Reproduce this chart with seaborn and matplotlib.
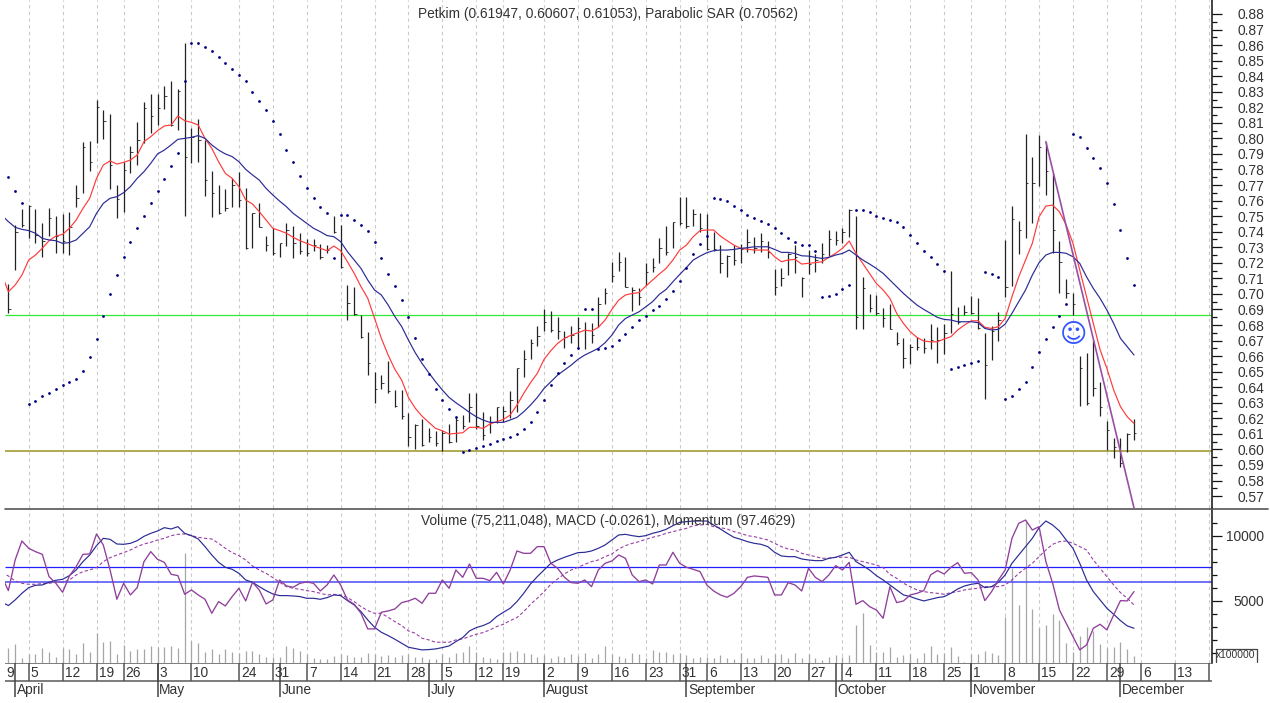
import numpy as np
import pandas as pd
import matplotlib.pyplot as plt
import seaborn as sns

W, H = 1270, 703

# daily bars, session 0 is 9 April
high = [0.7064,0.7443,0.7544,0.7572,0.7544,0.7454,0.7550,0.7503,0.7512,0.7525,
        0.7700,0.7975,0.7983,0.8247,0.8183,0.8155,0.7700,0.7850,0.7951,0.8103,
        0.8232,0.8283,0.8283,0.8339,0.8367,0.8318,0.8611,0.8069,0.8125,0.7990,
        0.7790,0.7700,0.7675,0.7747,0.7786,0.7679,0.7522,0.7582,0.7375,0.7426,
        0.7330,0.7454,0.7439,0.7390,0.7353,0.7353,0.7321,0.7314,0.7503,0.7443,
        0.7058,0.7043,0.6865,0.6753,0.6498,0.6477,0.6569,0.6382,0.6382,0.6232,
        0.6164,0.6193,0.6135,0.6120,0.6124,0.6163,0.6210,0.6221,0.6360,0.6360,
        0.6242,0.6214,0.6274,0.6279,0.6375,0.6525,0.6639,0.6707,0.6793,0.6903,
        0.6892,0.6849,0.6763,0.6793,0.6849,0.6821,0.6815,0.6978,0.7035,0.7203,
        0.7267,0.7235,0.7042,0.7035,0.7197,0.7229,0.7362,0.7436,0.7464,0.7625,
        0.7621,0.7543,0.7518,0.7511,0.7400,0.7314,0.7250,0.7314,0.7318,0.7415,
        0.7368,0.7389,0.7340,0.7157,0.7164,0.7265,0.7314,0.7110,0.7282,0.7256,
        0.7325,0.7410,0.7406,0.7421,0.7543,0.7501,0.7110,0.6999,0.6993,0.6907,
        0.6935,0.6753,0.6714,0.6677,0.6720,0.6714,0.6806,0.6785,0.6806,0.7147,
        0.6918,0.6928,0.6986,0.6971,0.6750,0.6793,0.6885,0.7346,0.7565,0.7468,
        0.8028,0.7878,0.8022,0.7979,0.7779,0.7340,0.7093,0.7003,0.6602,0.6617,
        0.6703,0.6435,0.6184,0.6075,0.6071,0.6107,0.61947]
low = [0.6880,0.7154,0.7428,0.7357,0.7329,0.7235,0.7372,0.7265,0.7265,0.7250,
       0.7561,0.7647,0.7792,0.7973,0.7994,0.7675,0.7486,0.7527,0.7775,0.7829,
       0.7973,0.8033,0.8086,0.8191,0.8079,0.8054,0.7503,0.7840,0.7850,0.7632,
       0.7497,0.7512,0.7535,0.7561,0.7561,0.7287,0.7293,0.7428,0.7278,0.7250,
       0.7235,0.7308,0.7229,0.7257,0.7244,0.7278,0.7222,0.7261,0.7394,0.7164,
       0.6832,0.6865,0.6719,0.6477,0.6301,0.6387,0.6365,0.6271,0.6196,0.6022,
       0.6003,0.6024,0.6045,0.6024,0.5991,0.6039,0.6045,0.6131,0.6174,0.6131,
       0.6060,0.6103,0.6171,0.6178,0.6200,0.6242,0.6467,0.6581,0.6667,0.6763,
       0.6757,0.6712,0.6654,0.6682,0.6650,0.6645,0.6682,0.6789,0.6935,0.7079,
       0.7147,0.7042,0.6890,0.6928,0.7055,0.7143,0.7197,0.7250,0.7293,0.7443,
       0.7421,0.7438,0.7395,0.7282,0.7278,0.7136,0.7106,0.7185,0.7200,0.7271,
       0.7265,0.7271,0.7228,0.6992,0.7050,0.7121,0.7136,0.6982,0.7127,0.7143,
       0.7196,0.7243,0.7314,0.7325,0.7368,0.6774,0.6774,0.6881,0.6864,0.6789,
       0.6772,0.6669,0.6521,0.6549,0.6639,0.6622,0.6645,0.6557,0.6611,0.6746,
       0.6806,0.6864,0.6870,0.6772,0.6322,0.6575,0.6699,0.6982,0.7053,0.7256,
       0.7361,0.7453,0.7696,0.7636,0.7261,0.7008,0.6971,0.6864,0.6280,0.6285,
       0.6343,0.6217,0.5996,0.5942,0.5889,0.5985,0.60607]
close = [0.6903,0.7400,0.7443,0.7565,0.7379,0.7342,0.7486,0.7372,0.7342,0.7428,
         0.7615,0.7947,0.7846,0.8204,0.8112,0.7829,0.7610,0.7797,0.7910,0.7990,
         0.8193,0.8146,0.8198,0.8273,0.8086,0.8307,0.7883,0.8011,0.7990,0.7732,
         0.7651,0.7518,0.7550,0.7700,0.7604,0.7293,0.7518,0.7432,0.7314,0.7265,
         0.7325,0.7411,0.7325,0.7278,0.7261,0.7314,0.7235,0.7282,0.7396,0.7175,
         0.6944,0.6870,0.6721,0.6558,0.6387,0.6425,0.6378,0.6280,0.6215,0.6082,
         0.6157,0.6028,0.6082,0.6039,0.6107,0.6050,0.6189,0.6152,0.6274,0.6152,
         0.6092,0.6178,0.6274,0.6247,0.6317,0.6521,0.6579,0.6682,0.6729,0.6821,
         0.6767,0.6763,0.6720,0.6735,0.6778,0.6767,0.6735,0.6935,0.7008,0.7115,
         0.7207,0.7042,0.7025,0.6982,0.7143,0.7175,0.7293,0.7271,0.7460,0.7458,
         0.7436,0.7513,0.7421,0.7286,0.7286,0.7196,0.7243,0.7217,0.7286,0.7335,
         0.7293,0.7342,0.7271,0.7042,0.7104,0.7256,0.7239,0.7100,0.7192,0.7217,
         0.7256,0.7350,0.7346,0.7400,0.7539,0.6849,0.7035,0.6907,0.6875,0.6847,
         0.6776,0.6686,0.6590,0.6660,0.6656,0.6650,0.6703,0.6703,0.6746,0.6870,
         0.6821,0.6885,0.6879,0.6778,0.6542,0.6763,0.6832,0.7046,0.7481,0.7410,
         0.7715,0.7715,0.7942,0.7792,0.7410,0.7203,0.7003,0.6935,0.6521,0.6296,
         0.6397,0.6275,0.6124,0.6018,0.5910,0.6099,0.61053]

# parabolic SAR, one dot per session
sar = [0.7750,0.7662,0.7583,0.6292,0.6314,0.6342,0.6363,0.6391,0.6412,0.6434,
       0.6455,0.6507,0.6597,0.6708,0.6858,0.6999,0.7122,0.7235,0.7334,0.7426,
       0.7503,0.7582,0.7660,0.7737,0.7822,0.7904,0.8367,0.8611,0.8611,0.8588,
       0.8564,0.8523,0.8483,0.8444,0.8408,0.8367,0.8298,0.8241,0.8185,0.8112,
       0.8028,0.7928,0.7850,0.7758,0.7679,0.7617,0.7561,0.7518,0.7229,0.7505,
       0.7505,0.7475,0.7445,0.7405,0.7332,0.7229,0.7128,0.7051,0.6958,0.6853,
       0.6716,0.6581,0.6482,0.6390,0.6320,0.6257,0.6208,0.5985,0.5996,0.6009,
       0.6024,0.6036,0.6051,0.6064,0.6079,0.6101,0.6129,0.6178,0.6240,0.6320,
       0.6414,0.6489,0.6553,0.6609,0.6652,0.6900,0.6900,0.6647,0.6652,0.6667,
       0.6701,0.6744,0.6787,0.6830,0.6860,0.6894,0.6924,0.6965,0.7020,0.7083,
       0.7169,0.7254,0.7319,0.7374,0.7619,0.7610,0.7595,0.7567,0.7540,0.7510,
       0.7488,0.7467,0.7447,0.7424,0.7390,0.7362,0.7332,0.7315,0.7315,0.7278,
       0.6982,0.6988,0.6999,0.7030,0.7058,0.7537,0.7539,0.7524,0.7504,0.7485,
       0.7475,0.7460,0.7432,0.7376,0.7325,0.7278,0.7235,0.7190,0.7149,0.6519,
       0.6532,0.6545,0.6553,0.6566,0.7143,0.7128,0.7110,0.6322,0.6343,0.6386,
       0.6433,0.6527,0.6626,0.6710,0.6789,0.6858,0.6933,0.8028,0.8007,0.7936,
       0.7872,0.7807,0.7711,0.7576,0.7410,0.7228,0.70562]

# the two moving averages and the lower pane lines start one session earlier
ma_fast = [0.7130,0.7014,0.7057,0.7121,0.7218,0.7250,0.7293,0.7342,0.7372,0.7383,0.7422,
           0.7475,0.7550,0.7615,0.7743,0.7829,0.7855,0.7835,0.7846,0.7861,0.7893,
           0.7979,0.8011,0.8050,0.8080,0.8086,0.8144,0.8114,0.8103,0.8086,0.8000,
           0.7936,0.7850,0.7775,0.7743,0.7690,0.7604,0.7578,0.7529,0.7475,0.7422,
           0.7407,0.7390,0.7364,0.7342,0.7325,0.7308,0.7293,0.7278,0.7308,0.7278,
           0.7207,0.7132,0.7047,0.6972,0.6843,0.6715,0.6607,0.6515,0.6446,0.6334,
           0.6265,0.6214,0.6174,0.6135,0.6120,0.6099,0.6103,0.6107,0.6142,0.6142,
           0.6135,0.6163,0.6178,0.6193,0.6221,0.6285,0.6360,0.6429,0.6489,0.6579,
           0.6635,0.6682,0.6714,0.6735,0.6750,0.6767,0.6761,0.6785,0.6832,0.6900,
           0.6960,0.6993,0.7003,0.7008,0.7050,0.7089,0.7128,0.7164,0.7218,0.7282,
           0.7314,0.7368,0.7407,0.7411,0.7411,0.7372,0.7342,0.7314,0.7293,0.7287,
           0.7282,0.7282,0.7282,0.7239,0.7207,0.7218,0.7222,0.7192,0.7197,0.7201,
           0.7207,0.7235,0.7261,0.7293,0.7340,0.7260,0.7196,0.7132,0.7067,0.7025,
           0.6971,0.6875,0.6810,0.6757,0.6720,0.6697,0.6692,0.6692,0.6710,0.6725,
           0.6768,0.6800,0.6827,0.6827,0.6785,0.6778,0.6789,0.6843,0.6982,0.7110,
           0.7218,0.7325,0.7496,0.7565,0.7571,0.7528,0.7443,0.7325,0.7153,0.6982,
           0.6810,0.6640,0.6521,0.6382,0.6275,0.6210,0.6167]
ma_slow = [0.7507,0.7465,0.7428,0.7415,0.7407,0.7390,0.7357,0.7347,0.7342,0.7325,0.7330,
           0.7347,0.7390,0.7432,0.7518,0.7582,0.7615,0.7625,0.7651,0.7690,0.7743,
           0.7786,0.7840,0.7900,0.7925,0.7958,0.7994,0.8000,0.8007,0.8018,0.8000,
           0.7958,0.7925,0.7900,0.7883,0.7850,0.7801,0.7765,0.7732,0.7679,0.7636,
           0.7597,0.7561,0.7518,0.7486,0.7454,0.7422,0.7400,0.7375,0.7368,0.7336,
           0.7272,0.7218,0.7164,0.7089,0.7025,0.6993,0.6929,0.6854,0.6790,0.6703,
           0.6622,0.6553,0.6493,0.6435,0.6382,0.6334,0.6300,0.6270,0.6238,0.6210,
           0.6189,0.6174,0.6174,0.6174,0.6189,0.6206,0.6242,0.6285,0.6334,0.6392,
           0.6435,0.6478,0.6510,0.6542,0.6579,0.6607,0.6628,0.6650,0.6686,0.6735,
           0.6800,0.6842,0.6864,0.6885,0.6917,0.6950,0.6997,0.7029,0.7078,0.7125,
           0.7170,0.7218,0.7243,0.7265,0.7278,0.7282,0.7282,0.7286,0.7293,0.7297,
           0.7303,0.7303,0.7303,0.7286,0.7267,0.7267,0.7260,0.7245,0.7243,0.7235,
           0.7228,0.7235,0.7250,0.7260,0.7282,0.7250,0.7218,0.7192,0.7164,0.7132,
           0.7089,0.7046,0.7003,0.6965,0.6928,0.6900,0.6875,0.6849,0.6836,0.6832,
           0.6821,0.6821,0.6821,0.6815,0.6778,0.6768,0.6772,0.6806,0.6875,0.6950,
           0.7025,0.7121,0.7201,0.7250,0.7267,0.7267,0.7261,0.7239,0.7196,0.7110,
           0.7035,0.6971,0.6896,0.6810,0.6714,0.6660,0.6607]

# lower pane, read against its right hand scale
volume = [1336,1643,567,874,900,1336,1080,644,1336,1259,
          900,1720,1080,2490,1849,1925,900,1592,1157,1259,
          1259,1515,1464,1413,1515,1336,8694,1900,1772,1080,
          1259,900,1259,1080,1003,1157,1157,900,644,695,
          644,1515,1336,1157,874,567,490,490,746,874,
          823,644,644,951,900,746,823,644,823,900,
          695,644,515,515,900,695,951,1080,1515,1080,
          695,567,490,1080,1080,1131,951,874,695,823,
          618,746,695,900,772,951,618,900,1515,900,
          772,567,951,874,618,1208,1080,1080,900,951,
          823,567,695,644,567,823,567,515,951,618,
          567,823,618,900,900,567,951,618,900,567,
          438,695,823,695,823,3131,4028,1592,1080,1080,
          1413,644,823,874,618,951,1515,900,1003,1413,
          746,310,874,900,1157,1003,823,3772,7489,4669,
          11207,4361,2874,3131,3951,3515,1772,1080,2284,3002,
          2669,1669,1336,1413,1849,1259,752]
macd = [4900,4618,5054,5566,6002,6182,6207,6413,6566,6643,6925,
        7361,8002,8515,9233,9797,9720,9361,9335,9412,9618,
        9951,10182,10361,10617,10515,10694,10182,10002,9746,9156,
        8515,7951,7566,7412,7105,6592,6413,6079,5771,5515,
        5387,5387,5361,5310,5182,5182,5105,5233,5438,5387,
        5002,4669,4156,3515,2951,2566,2310,2028,1720,1412,
        1310,1208,1233,1284,1387,1515,1849,2156,2669,2925,
        3079,3310,3772,4105,4412,4925,5566,6284,6848,7361,
        7874,8130,8335,8515,8695,8720,8823,9028,9284,9669,
        10053,10105,10002,9925,10002,10182,10310,10489,10771,11028,
        11079,11130,11130,11130,10823,10515,10182,9874,9720,9541,
        9412,9335,9156,8720,8438,8387,8387,8207,8130,8079,
        8079,8259,8335,8515,8720,8002,7694,7361,6925,6592,
        6207,5823,5438,5310,5130,4977,5105,5233,5310,5566,
        5900,6130,6259,6336,6002,6079,6413,6977,7874,8515,
        9156,9797,10617,11130,10823,10361,9669,9028,7874,6592,
        5695,5054,4412,3951,3464,3054,2874]
signal = [7150,6900,6515,6336,6259,6259,6310,6336,6413,6413,6592,
          6977,7233,7361,7541,8002,8310,8515,8695,8900,9156,
          9361,9489,9669,9797,10002,10105,10130,10002,9874,9797,
          9746,9412,9028,8695,8464,8130,7669,7361,7105,6771,
          6413,6079,5951,5874,5771,5695,5566,5438,5489,5438,
          5233,4925,4541,4233,4028,4028,3720,3387,3079,2669,
          2490,2105,1977,1797,1797,1797,1977,2054,2233,2413,
          2541,2746,3002,3182,3464,3695,4156,4720,5182,5695,
          6259,6669,7053,7361,7566,7797,8002,8130,8387,8592,
          8977,9233,9412,9541,9720,9874,10002,10182,10310,10438,
          10566,10771,10823,10874,10694,10618,10515,10310,10182,10002,
          9925,9797,9669,9412,9156,8977,8900,8643,8515,8387,
          8259,8259,8335,8335,8335,8130,8002,7874,7746,7541,
          7028,6720,6336,6079,5823,5695,5618,5566,5489,5618,
          5695,5823,5900,5951,6079,6079,6079,6207,6592,7105,
          7489,7874,8387,8900,9335,9541,9592,9412,9156,8900,
          8130,7489,6848,6207,5618,5182,4669]
momentum = [6900,5771,8130,9592,9028,8771,8566,6848,6336,5643,6900,
            7618,8566,8592,10130,9284,7361,5105,6336,5438,6002,
            8002,8771,8182,7951,7028,6925,5489,5823,5438,5105,
            4028,4925,4592,5310,5951,4977,6413,5823,4746,5054,
            6592,6130,6028,6336,6438,6336,5746,6207,6977,6207,
            5054,4720,4028,2823,2823,4105,4207,4361,4848,4977,
            5182,4797,5566,5566,6592,5951,7361,6797,7823,6720,
            6720,6541,7182,6284,7361,8823,8643,8643,9156,9156,
            7874,7489,6797,6387,6336,6592,6079,7361,7874,8053,
            8515,8259,6977,6464,6592,6284,7746,7746,8720,7874,
            7566,7412,7233,6207,5746,5438,5259,5566,6079,6797,
            6900,6848,6797,5438,5438,6387,6207,5746,7489,6797,
            6464,6977,7694,7361,7951,4720,5002,4541,4284,3643,
            6079,4848,4977,5438,5566,5771,6977,7310,7053,7566,
            7925,7105,7156,6592,5002,5695,6592,7361,9797,10951,
            11207,10438,10694,8002,6336,4284,3259,2233,1208,1592,
            2874,3182,2746,3900,5002,4977,5695]

week_sessions = [3,8,13,17,22,27,34,39,44,49,54,59,64,69,73,79,84,89,94,99,103,108,113,118,
                 123,128,133,138,142,147,152,157,162,167,172,177]
week_labels = ['5','12','19','26','3','10','24','31','7','14','21','28','5','12','19','2','9','16',
               '23','31','6','13','20','27','4','11','18','25','1','8','15','22','29','6','13','']
month_sessions = [1,22,40,62,79,100,122,142,164]
month_labels = ['April','May','June','July','August','September','October','November','December']

price_ticks = np.arange(57, 89) / 100
price_minor = np.arange(57, 88) / 100 + 0.005
pane_ticks = [5000, 10000]
pane_minor = [1000,2000,3000,4000,6000,7000,8000,9000,11000]

support = 0.6864
resistance = 0.5990
pane_levels = [7554, 6462]
trend_sessions = [153, 166]
trend_prices = [0.7979, 0.5623]

sns.set_theme(style="white")
plt.rcParams['font.family'] = ['Liberation Sans', 'DejaVu Sans']
FS = 9.9

df = pd.DataFrame({'session': np.arange(len(high)), 'high': high, 'low': low, 'close': close,
                   'sar': sar, 'volume': volume})
lines = pd.DataFrame({'session': np.arange(-1, len(high)), 'fast': ma_fast, 'slow': ma_slow,
                      'macd': macd, 'signal': signal, 'momentum': momentum})

fig = plt.figure(figsize=(W / 100, H / 100), dpi=100, facecolor='white')


def pane(top, bottom):
    return fig.add_axes([5 / W, 1 - bottom / H, 1207 / W, (bottom - top) / H])


ax = pane(0, 508)
ax2 = pane(508, 663)
ax3 = pane(663, 697)
xlim = (-0.4955, 177.5)
for a in (ax, ax2, ax3):
    a.set_xlim(*xlim)
    a.set_facecolor('none')
    a.set_xticks([])
    for s in a.spines.values():
        s.set_visible(False)
ax.set_ylim(0.56232, 0.889)
ax2.set_ylim(200, 12131)
ax3.set_ylim(2, 0)

for a in (ax, ax2):
    a.vlines(week_sessions, *a.get_ylim(), color='#c9c9c9', lw=0.8, linestyles=(0, (3, 3)), zorder=0)
    a.yaxis.tick_right()
    a.spines['right'].set_visible(True)
    a.spines['right'].set_color('#111111')
    a.spines['right'].set_linewidth(1.1)

# price pane
ax.hlines(support, *xlim, color='#35e835', lw=0.9, zorder=1)
ax.hlines(resistance, *xlim, color='#a39c35', lw=1.2, zorder=1)
ax.vlines(df['session'], df['low'], df['high'], color='#222222', lw=0.9, zorder=2)
ax.hlines(df['close'], df['session'], df['session'] + 0.35, color='#222222', lw=0.6, zorder=2)
sns.lineplot(data=lines, x='session', y='fast', ax=ax, color='#ff3a3a', lw=0.85, estimator=None, sort=False, zorder=3)
sns.lineplot(data=lines, x='session', y='slow', ax=ax, color='#2a2a95', lw=0.85, estimator=None, sort=False, zorder=3)
sns.scatterplot(data=df, x='session', y='sar', ax=ax, color='#000080', marker='o', s=4, linewidth=0, zorder=4)
sns.lineplot(x=trend_sessions, y=trend_prices, ax=ax, color='#9a4fa5', lw=1.2, estimator=None, sort=False, zorder=4)
ax.text(157.1, 0.6733, '\u263a', color='#3355ff', fontsize=19, ha='center', va='center',
        family='DejaVu Sans', zorder=5)
ax.set_yticks(price_ticks)
ax.set_yticklabels([f'{v:.2f}' for v in price_ticks])
ax.set_yticks(price_minor, minor=True)
ax.tick_params(axis='y', which='major', direction='out', length=7.2, width=0.9, color='#111111',
               pad=11.5, labelsize=FS, labelcolor='#333333', right=True)
ax.tick_params(axis='y', which='minor', direction='out', length=3.6, width=0.9, color='#111111', right=True)
ax.set_xlabel('')
ax.set_ylabel('')
ax.text(0.5, 1 - 14 / 508, 'Petkim (0.61947, 0.60607, 0.61053), Parabolic SAR (0.70562)',
        transform=ax.transAxes, ha='center', va='center', fontsize=FS, color='#333333')

# indicator pane
ax2.vlines(df['session'], 200, df['volume'], color='#a6a6a6', lw=0.9, zorder=1)
ax2.hlines(pane_levels[0], *xlim, color='#2020ff', lw=0.9, zorder=2)
ax2.hlines(pane_levels[1], *xlim, color='#4a4af5', lw=1.1, zorder=2)
sns.lineplot(data=lines, x='session', y='signal', ax=ax2, color='#9a3fa5', lw=0.8, linestyle=(0, (3, 2)),
             estimator=None, sort=False, zorder=3)
sns.lineplot(data=lines, x='session', y='macd', ax=ax2, color='#2a2a95', lw=0.85, estimator=None, sort=False, zorder=3)
sns.lineplot(data=lines, x='session', y='momentum', ax=ax2, color='#8f3f9a', lw=0.95, estimator=None, sort=False, zorder=3)
ax2.set_yticks(pane_ticks)
ax2.set_yticklabels(['5000', '10000'], ha='right')
ax2.set_yticks(pane_minor, minor=True)
ax2.tick_params(axis='y', which='major', direction='out', length=7.2, width=0.9, color='#111111',
                pad=30, labelsize=FS, labelcolor='#333333', right=True)
ax2.tick_params(axis='y', which='minor', direction='out', length=3.6, width=0.9, color='#111111', right=True)
ax2.set_xlabel('')
ax2.set_ylabel('')
ax2.text(0.5, 1 - 13 / 155, 'Volume (75,211,048), MACD (-0.0261), Momentum (97.4629)',
         transform=ax2.transAxes, ha='center', va='center', fontsize=FS, color='#333333', zorder=6)

# date strips
ax3.set_yticks([])
ax3.hlines([0, 18 / 17], *xlim, color='#666666', lw=1.2)
ax3.vlines(week_sessions, 0, 18 / 17, color='#555555', lw=1.1)
ax3.vlines(month_sessions, 0, 2, color='#444444', lw=1.1)
ax3.text(-0.3, 0.56, '9', ha='left', va='center', fontsize=FS, color='#333333')
for s, t in zip(week_sessions, week_labels):
    ax3.text(s + 0.3, 0.56, t, ha='left', va='center', fontsize=FS, color='#333333')
for s, t in zip(month_sessions, month_labels):
    ax3.text(s + 0.25, 1.58, t, ha='left', va='center', fontsize=FS, color='#333333')

fig.add_artist(plt.Line2D([5 / W, 1268 / W], [1 - 508.5 / H] * 2, color='#555555', lw=1.2))
fig.add_artist(plt.Line2D([1216 / W, 1216 / W, 1257 / W, 1257 / W],
                          [1 - 662 / H, 1 - 649 / H, 1 - 649 / H, 1 - 662 / H], color='#444444', lw=0.9))
fig.text(1236 / W, 1 - 655.5 / H, 'x100000', ha='center', va='center', fontsize=7.4, color='#333333')

fig.savefig('out.png', dpi=100, facecolor='white')
